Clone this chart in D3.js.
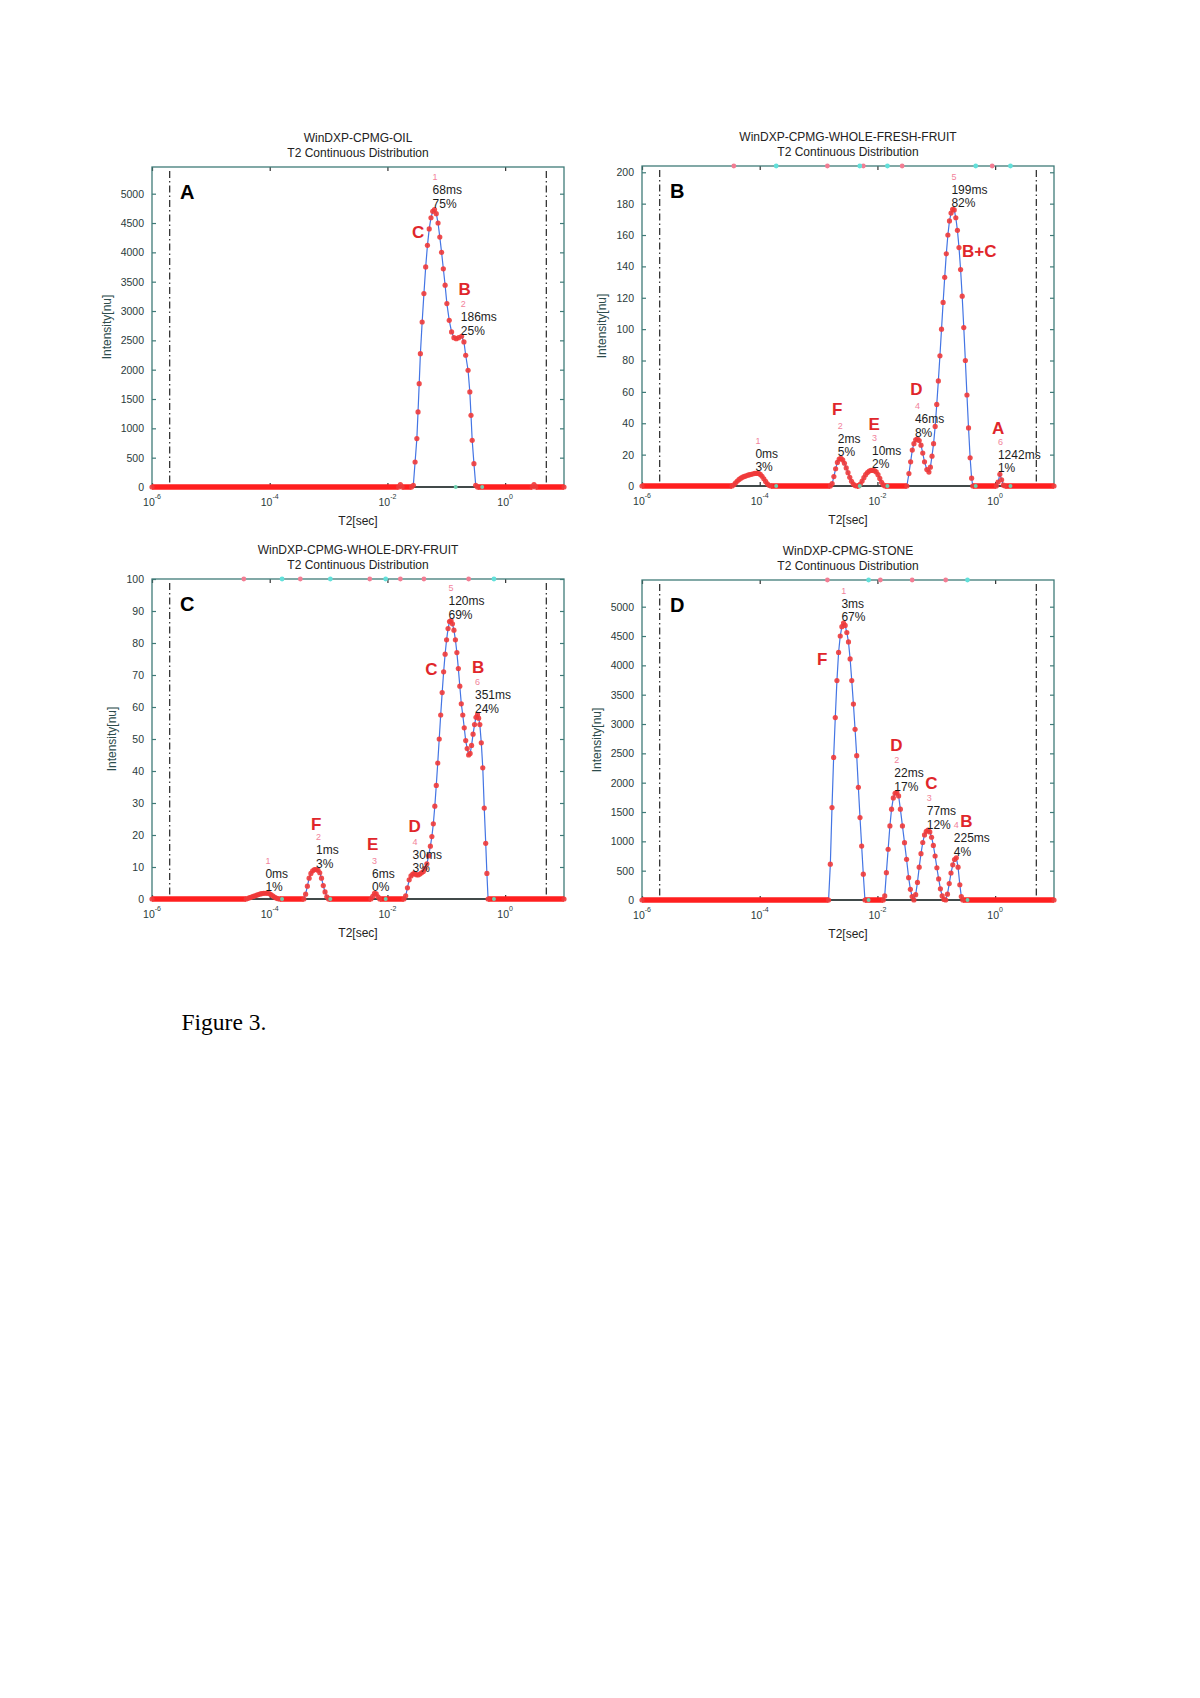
<!DOCTYPE html>
<html>
<head>
<meta charset="utf-8">
<script src="https://cdn.jsdelivr.net/npm/d3@7"></script>
<style>
  body { margin: 0; background: #fff; }
  svg { display: block; }
</style>
</head>
<body>
<svg id="fig" width="1200" height="1698"></svg>
<script>
// ---- data: [log10 T2 (s), intensity (nu)] ----
const titles = ['WinDXP-CPMG-OIL', 'WinDXP-CPMG-WHOLE-FRESH-FRUIT', 'WinDXP-CPMG-WHOLE-DRY-FRUIT', 'WinDXP-CPMG-STONE']
const subtitle = 'T2 Continuous Distribution'
const panelLetters = ['A', 'B', 'C', 'D']
const yMax = [5455, 204, 100, 5455]
const yTop = [5000, 200, 100, 5000]
const yStep = [500, 20, 10, 500]
const xTickExp = [-6, -4, -2, 0]
const cutoffs = [2e-6, 5]   // dash-dot limits

const oilCurve = [[-6,0],[-1.81,0],[-1.78,40],[-1.75,0],[-1.59,0],[-1.56,30],[-1.53,426],[-1.50,825],[-1.48,1280],[-1.46,1762],[-1.44,2273],[-1.41,2813],[-1.38,3297],[-1.35,3751],[-1.32,4120],[-1.29,4400],[-1.26,4590],[-1.23,4700],[-1.20,4730],[-1.17,4660],[-1.14,4500],[-1.11,4260],[-1.08,4000],[-1.05,3720],[-1.02,3440],[-0.99,3126],[-0.95,2842],[-0.91,2643],[-0.87,2546],[-0.83,2529],[-0.79,2546],[-0.74,2570],[-0.70,2473],[-0.67,2246],[-0.63,1990],[-0.60,1620],[-0.58,1222],[-0.56,796],[-0.53,398],[-0.50,29],[-0.47,0],[0.46,0],[0.49,40],[0.52,0],[1,0]]

const freshCurve = [[-6,0],[-4.47,0],[-4.44,0.8],[-4.41,2.0],[-4.38,3.2],[-4.35,4.2],[-4.32,5.0],[-4.29,5.6],[-4.26,6.1],[-4.23,6.5],[-4.20,6.9],[-4.17,7.2],[-4.14,7.5],[-4.11,7.8],[-4.08,8.0],[-4.05,8.1],[-4.02,8.0],[-3.99,7.4],[-3.96,6.2],[-3.93,4.6],[-3.90,2.9],[-3.87,1.4],[-3.84,0.4],[-3.81,0],
  [-2.80,0],[-2.77,1.5],[-2.74,6],[-2.71,11],[-2.68,15],[-2.65,17.2],[-2.62,17.6],[-2.59,16.6],[-2.56,14.5],[-2.53,11.5],[-2.50,8.5],[-2.47,5.5],[-2.44,3],[-2.41,1.2],[-2.38,0.3],[-2.35,0],
  [-2.32,0],[-2.29,1.2],[-2.26,3.2],[-2.23,5.3],[-2.20,7.2],[-2.17,8.6],[-2.14,9.5],[-2.11,9.9],[-2.08,10],[-2.05,9.8],[-2.02,9.0],[-1.99,7.2],[-1.96,4.8],[-1.93,2.4],[-1.90,0.7],[-1.87,0],
  [-1.50,0],[-1.465,7.9],[-1.436,15.4],[-1.408,22.9],[-1.38,27],[-1.35,29.5],[-1.32,30],[-1.29,29],[-1.26,26],[-1.23,21],[-1.20,15.4],[-1.16,10.5],[-1.125,8.9],
  [-1.10,12],[-1.073,19],[-1.046,27],[-1.019,38],[-0.992,52],[-0.965,67],[-0.938,83],[-0.911,100],[-0.884,117],[-0.857,133],[-0.83,148],[-0.803,160],[-0.776,169],[-0.749,174],[-0.722,176.4],[-0.695,176],[-0.668,171],[-0.641,163],[-0.614,152],[-0.587,138],[-0.56,121],[-0.533,101],[-0.506,80],[-0.479,58],[-0.452,37],[-0.425,18],[-0.40,5],[-0.38,0],
  [0.02,0],[0.05,2.5],[0.08,7.5],[0.11,4],[0.14,0.5],[0.17,0],[1,0]]

const dryCurve = [[-6,0],[-4.40,0],[-4.37,0.2],[-4.34,0.4],[-4.31,0.6],[-4.28,0.8],[-4.25,1.0],[-4.22,1.2],[-4.19,1.4],[-4.16,1.6],[-4.13,1.7],[-4.10,1.8],[-4.07,1.8],[-4.04,1.8],[-4.01,1.7],[-3.98,1.4],[-3.95,1.0],[-3.92,0.6],[-3.89,0.3],[-3.86,0.1],[-3.83,0],
  [-3.42,0],[-3.39,1.5],[-3.36,4],[-3.33,6.5],[-3.30,8],[-3.27,8.8],[-3.24,9.2],[-3.21,9.2],[-3.18,9.0],[-3.15,8.2],[-3.12,6.5],[-3.09,4.2],[-3.06,2.2],[-3.03,0.7],[-3.00,0],
  [-2.28,0],[-2.25,0.8],[-2.22,1.8],[-2.19,1.6],[-2.16,0.7],[-2.13,0],
  [-1.72,0],[-1.69,1.0],[-1.66,3.5],[-1.63,6.0],[-1.60,7.2],[-1.57,7.8],[-1.54,8.0],[-1.51,7.6],[-1.48,7.5],[-1.45,7.8],[-1.42,8.2],[-1.39,8.6],[-1.36,9.6],[-1.33,11.0],[-1.30,13.5],[-1.27,16.5],[-1.245,19.5],[-1.22,23.5],[-1.195,29],[-1.17,35.5],[-1.145,42.5],[-1.12,50],[-1.095,57.5],[-1.07,64.5],[-1.045,71],[-1.02,76.5],[-0.995,81],[-0.97,84.5],[-0.945,86.7],[-0.92,87.0],[-0.895,86],[-0.87,84],[-0.845,81],[-0.82,77],[-0.795,72],[-0.77,66.5],[-0.745,61],[-0.72,57.5],[-0.695,53.5],[-0.67,49.5],[-0.645,47],[-0.62,45],[-0.595,45.5],[-0.57,48],[-0.545,51.5],[-0.52,54.5],[-0.495,56.8],[-0.47,57.6],[-0.45,56.5],[-0.43,54.5],[-0.405,48.8],[-0.38,41],[-0.355,28.4],[-0.33,17.4],[-0.31,8],[-0.29,0],[1,0]]

const stoneCurve = [[-6,0],[-2.83,0],[-2.80,610],[-2.772,1575],[-2.744,2430],[-2.716,3110],[-2.688,3740],[-2.66,4220],[-2.632,4500],[-2.604,4660],[-2.576,4720],[-2.548,4680],[-2.52,4560],[-2.492,4400],[-2.464,4110],[-2.436,3740],[-2.408,3340],[-2.38,2910],[-2.352,2460],[-2.324,1920],[-2.296,1405],[-2.268,920],[-2.24,440],[-2.212,0],
  [-1.90,0],[-1.876,70],[-1.848,466],[-1.818,865],[-1.788,1263],[-1.76,1548],[-1.73,1740],[-1.70,1820],[-1.67,1830],[-1.64,1775],[-1.61,1548],[-1.575,1263],[-1.54,978],[-1.505,694],[-1.47,381],[-1.44,182],[-1.41,60],[-1.38,0],
  [-1.35,90],[-1.32,300],[-1.29,560],[-1.26,790],[-1.23,980],[-1.20,1110],[-1.17,1170],[-1.14,1190],[-1.11,1160],[-1.08,1070],[-1.05,930],[-1.02,750],[-0.99,550],[-0.96,360],[-0.93,190],[-0.90,70],[-0.87,10],[-0.84,0],
  [-0.81,100],[-0.78,280],[-0.75,460],[-0.72,600],[-0.69,690],[-0.66,720],[-0.63,560],[-0.60,260],[-0.575,60],[-0.55,0],[1,0]]

// peak tags: number, log10 T2, intensity at peak, T2 text, fraction text
const oilTags = [['1',-1.19,4730,'68ms','75%'],['2',-0.71,2560,'186ms','25%']]
const freshTags = [['1',-4.03,8,'0ms','3%'],['2',-2.63,17.6,'2ms','5%'],['3',-2.05,10,'10ms','2%'],['4',-1.32,30,'46ms','8%'],['5',-0.70,176.4,'199ms','82%'],['6',0.09,7.5,'1242ms','1%']]
const dryTags = [['1',-4.03,1.8,'0ms','1%'],['2',-3.17,9.2,'1ms','3%'],['3',-2.22,1.8,'6ms','0%'],['4',-1.53,7.8,'30ms','3%'],['5',-0.92,87,'120ms','69%'],['6',-0.47,57.6,'351ms','24%']]
const stoneTags = [['1',-2.57,4720,'3ms','67%'],['2',-1.67,1830,'22ms','17%'],['3',-1.12,1180,'77ms','12%'],['4',-0.66,720,'225ms','4%']]

// red water-population letters at [log10 T2, intensity]
const oilPhases = [['C',-1.583,4252],['B',-0.791,3268]]
const freshPhases = [['F',-2.772,45.1],['E',-2.15,35.5],['D',-1.442,57.9],['B+C',-0.563,146.1],['A',-0.054,33.4]]
const dryPhases = [['F',-3.299,21.6],['E',-2.347,15.3],['D',-1.641,20.9],['C',-1.357,70.1],['B',-0.563,70.6]]
const stonePhases = [['F',-3.027,4006],['D',-1.781,2543],['C',-1.187,1890],['B',-0.592,1251]]

// integration limits marked on the frame
const oilStarts = [], oilEnds = [-0.84, -0.39]
const freshStarts = [-4.44, -2.85, -2.24, -1.58, -0.05], freshEnds = [-3.72, -2.30, -1.83, -0.33, 0.26]
const dryStarts = [-4.44, -3.48, -2.30, -1.78, -1.38, -0.62], dryEnds = [-3.79, -2.97, -2.03, -0.19]
const stoneStarts = [-2.85, -1.95, -1.41, -0.84], stoneEnds = [-2.15, -0.47]

const curves = [oilCurve, freshCurve, dryCurve, stoneCurve]
const tags = [oilTags, freshTags, dryTags, stoneTags]
const phases = [oilPhases, freshPhases, dryPhases, stonePhases]
const starts = [oilStarts, freshStarts, dryStarts, stoneStarts]
const ends = [oilEnds, freshEnds, dryEnds, stoneEnds]

// ---- layout ----
const W = 412, H = 320
const layout = [
  {left: 152, top: 167},
  {left: 642, top: 166},
  {left: 152, top: 579},
  {left: 642, top: 580}
]
const FONT = '"Liberation Sans", Arial, sans-serif'
const frameColor = '#3f7b78'

const svg = d3.select('#fig')
svg.append('rect').attr('width', 1200).attr('height', 1698).attr('fill', '#fff')

function drawPanel(k) {
  const L = layout[k]
  const curve = curves[k]
  const g = svg.append('g').attr('transform', `translate(${L.left},${L.top})`)
  const x = d3.scaleLog().domain([1e-6, 10]).range([0, W])
  const y = d3.scaleLinear().domain([0, yMax[k]]).range([H, 0])
  const X = lg => x(Math.pow(10, lg))

  // titles
  g.append('text').attr('x', W / 2).attr('y', -25.5).attr('text-anchor', 'middle')
    .attr('font-family', FONT).attr('font-size', 12).attr('fill', '#222').text(titles[k])
  g.append('text').attr('x', W / 2).attr('y', -10).attr('text-anchor', 'middle')
    .attr('font-family', FONT).attr('font-size', 12).attr('fill', '#222').text(subtitle)

  // y axes (left labelled, right ticks only)
  const yt = d3.range(0, yTop[k] + 1, yStep[k])
  const ya = g.append('g').call(d3.axisLeft(y).tickValues(yt).tickSize(-4).tickPadding(8).tickFormat(d3.format('d')))
  ya.attr('font-family', FONT)
  ya.select('.domain').remove()
  ya.selectAll('line').attr('stroke', frameColor).attr('stroke-width', 1.2)
  ya.selectAll('text').attr('font-size', 10.5).attr('fill', '#2a3b3b')
  const yr = g.append('g').attr('transform', `translate(${W},0)`)
    .call(d3.axisRight(y).tickValues(yt).tickSize(-4).tickFormat(''))
  yr.select('.domain').remove()
  yr.selectAll('line').attr('stroke', frameColor).attr('stroke-width', 1.2)

  // x axes (bottom labelled, top ticks only)
  const xt = xTickExp.map(e => Math.pow(10, e))
  const xb = g.append('g').attr('transform', `translate(0,${H})`)
    .call(d3.axisBottom(x).tickValues(xt).tickSize(-4).tickFormat(''))
  xb.select('.domain').remove()
  xb.selectAll('line').attr('stroke', '#333').attr('stroke-width', 1.2)
  const xtop = g.append('g').call(d3.axisTop(x).tickValues(xt).tickSize(-4).tickFormat(''))
  xtop.select('.domain').remove()
  xtop.selectAll('line').attr('stroke', '#333').attr('stroke-width', 1.2)

  xTickExp.forEach(e => {
    const t = g.append('text').attr('x', x(Math.pow(10, e))).attr('y', H + 18.5)
      .attr('text-anchor', 'middle').attr('font-family', FONT).attr('font-size', 10.5).attr('fill', '#2a3b3b')
    t.append('tspan').text('10')
    t.append('tspan').attr('dy', -6.5).attr('font-size', 7).text(String(e))
  })

  // frame
  g.append('rect').attr('width', W).attr('height', H).attr('fill', 'none')
    .attr('stroke', frameColor).attr('stroke-width', 1.3)
  g.append('line').attr('x1', 0).attr('x2', W).attr('y1', H).attr('y2', H)
    .attr('stroke', '#2b2b2b').attr('stroke-width', 1.3)

  // axis labels
  g.append('text').attr('x', W / 2).attr('y', H + 37.5).attr('text-anchor', 'middle')
    .attr('font-family', FONT).attr('font-size', 12).attr('fill', '#222').text('T2[sec]')
  let maxw = 0
  ya.selectAll('text').each(function () { maxw = Math.max(maxw, this.getComputedTextLength()) })
  g.append('text').attr('transform', `translate(${-(8 + maxw + 14)},${H / 2}) rotate(-90)`)
    .attr('text-anchor', 'middle').attr('dominant-baseline', 'central')
    .attr('font-family', FONT).attr('font-size', 12).attr('fill', '#2d4c4c').text('Intensity[nu]')

  // dash-dot cut-off lines
  cutoffs.forEach(c => {
    g.append('line').attr('x1', x(c)).attr('x2', x(c)).attr('y1', 4).attr('y2', H)
      .attr('stroke', '#111').attr('stroke-width', 1.1).attr('stroke-dasharray', '7,3,1.5,3')
  })

  // distribution: blue line, red zero band, red markers
  const line = d3.line().x(d => X(d[0])).y(d => y(d[1]))
  g.append('path').datum(curve).attr('d', line).attr('fill', 'none')
    .attr('stroke', '#4475e4').attr('stroke-width', 1.2)

  for (let i = 0; i < curve.length - 1; i++) {
    if (curve[i][1] === 0 && curve[i + 1][1] === 0) {
      g.append('line').attr('x1', X(curve[i][0])).attr('x2', X(curve[i + 1][0]))
        .attr('y1', y(0)).attr('y2', y(0))
        .attr('stroke', '#ff1f1f').attr('stroke-width', 5.5)
    }
  }
  g.append('g').selectAll('circle').data(curve).join('circle')
    .attr('cx', d => X(d[0])).attr('cy', d => y(d[1])).attr('r', 2.6)
    .attr('fill', '#f03a3a').attr('fill-opacity', 0.9)

  // integration limit marks
  starts[k].forEach(lg => {
    g.append('circle').attr('cx', X(lg)).attr('cy', 0).attr('r', 2.4).attr('fill', '#f27d93')
  })
  ends[k].forEach(lg => {
    if (k > 0) g.append('circle').attr('cx', X(lg)).attr('cy', 0).attr('r', 2.4).attr('fill', '#62e0da')
    g.append('circle').attr('cx', X(lg)).attr('cy', H).attr('r', 2).attr('fill', '#6ccfae')
  })

  // peak tags
  tags[k].forEach(([n, lg, v, ms, pct]) => {
    const px = X(lg), py = y(v)
    g.append('text').attr('x', px).attr('y', py - 32.5).attr('text-anchor', 'middle')
      .attr('dominant-baseline', 'central').attr('font-family', FONT).attr('font-size', 9)
      .attr('fill', '#f2839b').text(n)
    g.append('text').attr('x', px - 2.5).attr('y', py - 15.5)
      .attr('font-family', FONT).attr('font-size', 12).attr('fill', '#1c1c1c').text(ms)
    g.append('text').attr('x', px - 2.5).attr('y', py - 2)
      .attr('font-family', FONT).attr('font-size', 12).attr('fill', '#1c1c1c').text(pct)
  })

  // red phase letters
  phases[k].forEach(([s, lg, v]) => {
    g.append('text').attr('x', X(lg)).attr('y', y(v))
      .attr('font-family', FONT).attr('font-size', 17).attr('font-weight', 'bold')
      .attr('fill', '#e0262b').text(s)
  })

  // panel letter
  g.append('text').attr('x', 28).attr('y', 32).attr('font-family', FONT)
    .attr('font-size', 20).attr('font-weight', 'bold').attr('fill', '#000').text(panelLetters[k])
}

for (let k = 0; k < 4; k++) drawPanel(k)

svg.append('text').attr('x', 181.5).attr('y', 1030)
  .attr('font-family', '"Liberation Serif", "Times New Roman", serif')
  .attr('font-size', 23.5).attr('fill', '#000').text('Figure 3.')
</script>
</body>
</html>
